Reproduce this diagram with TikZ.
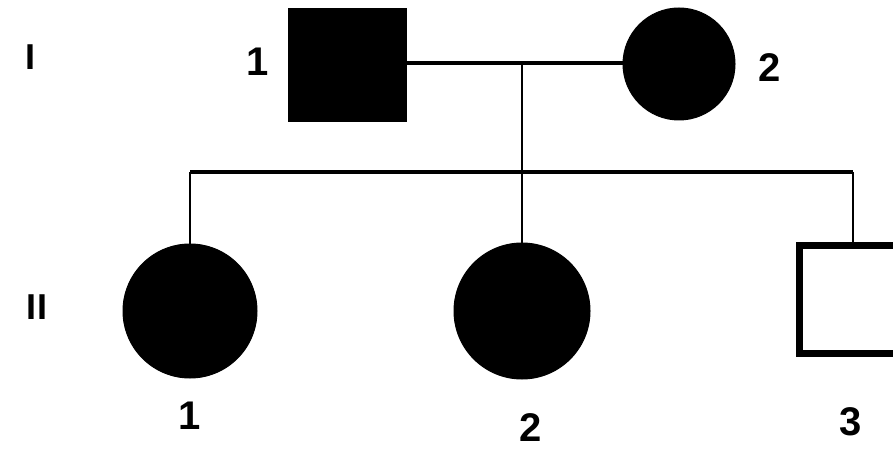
\documentclass[tikz,border=0pt]{standalone}
\usepackage{fontspec}
\setmainfont{Liberation Sans}
\begin{document}
\begin{tikzpicture}[x=1pt,y=-1pt,
  affm/.style={draw=black,fill=black,rectangle,minimum width=118pt,minimum height=113pt,inner sep=0pt,line width=1pt},
  afff/.style={draw=black,fill=black,circle,inner sep=0pt,line width=1pt},
  unam/.style={draw=black,fill=white,rectangle,minimum size=108pt,inner sep=0pt,line width=7pt},
  lbl/.style={font=\fontsize{40}{40}\selectfont\bfseries,inner sep=0pt},
  gen/.style={font=\fontsize{36}{36}\selectfont\bfseries,inner sep=0pt},
  lnk/.style={line width=3.5pt},
  dsc/.style={line width=2pt}]
\useasboundingbox (0,0) rectangle (893,449);
\clip (0,0) rectangle (893,449);
\fill[white] (0,0) rectangle (893,449);
% generation labels
\node[gen] (gI) at (31,57) {I};
\node[gen] (gII) at (37,307) {II};
% generation I
\node[affm] (a1) at (347,65.5) {};
\node[afff,minimum size=112pt] (a2) at (679,64) {};
\node[lbl] (la1) at (258,62) {1};
\node[lbl] (la2) at (770,68) {2};
% generation II
\node[afff,minimum size=134pt] (b1) at (190,311) {};
\node[afff,minimum size=136pt] (b2) at (522,311) {};
\node[unam] (b3) at (853,299.5) {};
\node[lbl] (lb1) at (190,416) {1};
\node[lbl] (lb2) at (531,428) {2};
\node[lbl] (lb3) at (851,422) {3};
% connectors
\coordinate (m) at (522,63);
\coordinate (s) at (522,172);
\coordinate (sl) at (190,172);
\coordinate (sr) at (853,172);
\draw[lnk] (a1.east |- m) -- (a2.west |- m);
\draw[dsc] (m) -- (s);
\draw[lnk] (sl) -- (sr);
\draw[dsc] (sl) -- (b1.north);
\draw[dsc] (s) -- (b2.north);
\draw[dsc] (sr) -- (b3.north);
\end{tikzpicture}
\end{document}
